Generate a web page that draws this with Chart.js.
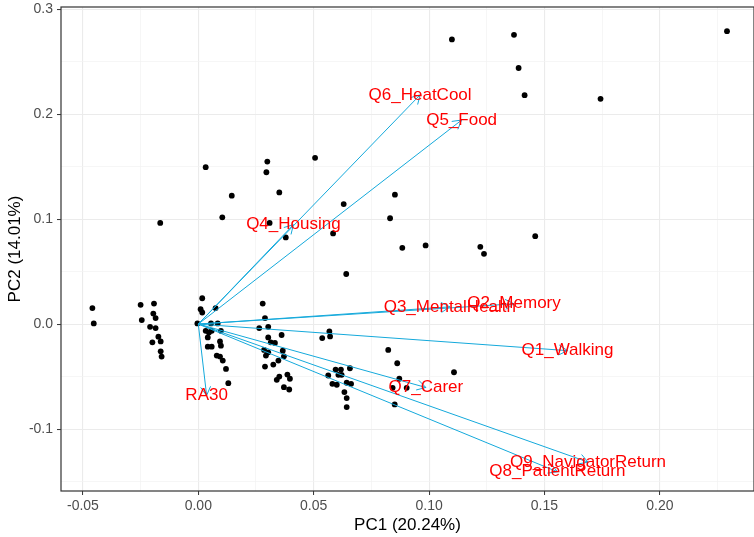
<!DOCTYPE html>
<html>
<head>
<meta charset="utf-8">
<script src="https://cdn.jsdelivr.net/npm/chart.js@4/dist/chart.umd.min.js"></script>
<style>
  body { margin: 0; background: #fff; overflow: hidden; }
  #wrap { width: 754px; height: 537px; }
  canvas { display: block; }
</style>
</head>
<body>
<div id="wrap"><canvas id="biplot" width="754" height="537"></canvas></div>
<script>
// PCA scores (PC1, PC2)
const scoreX = [
  -0.0459, -0.0453,
  -0.0250, -0.0192, -0.0195, -0.0185, -0.0245, -0.0209, -0.0185, -0.0173, -0.0163, -0.0199, -0.0163, -0.0159,
  -0.0165,
  0.0017, 0.0010, 0.0017, 0.0075, -0.0004, 0.0055, 0.0084, 0.0032, 0.0046, 0.0058, 0.0098, 0.0041, 0.0094,
  0.0098, 0.0041, 0.0058, 0.0080, 0.0094, 0.0106, 0.0120, 0.0130,
  0.0279, 0.0289, 0.0264, 0.0303, 0.0361, 0.0303, 0.0314, 0.0332, 0.0285, 0.0303, 0.0293, 0.0366, 0.0371,
  0.0347, 0.0289, 0.0325, 0.0340, 0.0351, 0.0386, 0.0397, 0.0371, 0.0394,
  0.0568, 0.0571, 0.0537, 0.0595, 0.0618, 0.0607, 0.0621, 0.0657, 0.0563, 0.0581, 0.0600, 0.0643, 0.0662,
  0.0633, 0.0643, 0.0643,
  0.0823, 0.0862, 0.0871, 0.1108, 0.0842, 0.0903, 0.0851,
  0.0032, 0.0145, 0.0104, 0.0299, 0.0295, 0.0351, 0.0309, 0.0379, 0.0506, 0.0630, 0.0584, 0.0641,
  0.0852, 0.0831, 0.0884, 0.0985, 0.1099, 0.1368, 0.1388, 0.1414, 0.1743, 0.2291, 0.1222, 0.1238, 0.1460
];
const scoreY = [
  0.0152, 0.0006,
  0.0183, 0.0195, 0.0100, 0.0057, 0.0038, -0.0026, -0.0038, -0.0120, -0.0165, -0.0174, -0.0260, -0.0310,
  0.0963,
  0.0246, 0.0142, 0.0110, 0.0152, 0.0006, 0.0006, 0.0006, -0.0064, -0.0080, -0.0064, -0.0064, -0.0127, -0.0165,
  -0.0206, -0.0215, -0.0215, -0.0300, -0.0310, -0.0348, -0.0427, -0.0563,
  0.0195, 0.0057, -0.0038, -0.0026, -0.0104, -0.0127, -0.0174, -0.0180, -0.0246, -0.0269, -0.0300, -0.0253, -0.0307,
  -0.0348, -0.0405, -0.0386, -0.0531, -0.0500, -0.0481, -0.0521, -0.0601, -0.0623,
  -0.0070, -0.0118, -0.0133, -0.0433, -0.0433, -0.0483, -0.0483, -0.0421, -0.0490, -0.0569, -0.0578, -0.0559, -0.0569,
  -0.0648, -0.0705, -0.0791,
  -0.0246, -0.0373, -0.0521, -0.0459, -0.0607, -0.0607, -0.0765,
  0.1494, 0.1223, 0.1017, 0.1548, 0.1446, 0.1254, 0.0963, 0.0825, 0.1583, 0.1143, 0.0863, 0.0477,
  0.1232, 0.1008, 0.0726, 0.0749, 0.2711, 0.2755, 0.2439, 0.2180, 0.2145, 0.2790, 0.0736, 0.0669, 0.0837
];

// Loadings (arrow tips)
const loadingNames = ["Q1_Walking", "Q2_Memory", "Q3_MentalHealth", "Q4_Housing", "Q5_Food",
                      "Q6_HeatCool", "Q7_Carer", "Q8_PatientReturn", "Q9_NavigatorReturn", "RA30"];
const loadingX = [0.1600, 0.1368, 0.1090, 0.0412, 0.1141, 0.0961, 0.0986, 0.1556, 0.1689, 0.0036];
const loadingY = [-0.0253, 0.0193, 0.0164, 0.0946, 0.1943, 0.2183, -0.0604, -0.1407, -0.1315, -0.0680];

// Axis ticks
const xMajorTicks = [-0.05, 0, 0.05, 0.10, 0.15, 0.20];
const xTickLabels = ["-0.05", "0.00", "0.05", "0.10", "0.15", "0.20"];
const xMinorTicks = [-0.025, 0.025, 0.075, 0.125, 0.175, 0.225];
const yMajorTicks = [-0.1, 0, 0.1, 0.2, 0.3];
const yTickLabels = ["-0.1", "0.0", "0.1", "0.2", "0.3"];
const yMinorTicks = [-0.15, -0.05, 0.05, 0.15, 0.25];

const ARROW_COLOR = "#14A9DB";
const FONT = "'Liberation Sans', Arial, sans-serif";

function majorIndex(list, v) {
  return list.findIndex(t => Math.abs(t - v) < 1e-9);
}

function buildTicks(major, minor) {
  return function (axis) {
    axis.ticks = major.concat(minor).sort((a, b) => a - b).map(v => ({ value: v }));
  };
}

// Arrowheads, red labels and panel border
const biplotExtras = {
  id: "biplotExtras",
  afterDatasetsDraw(chart) {
    const ctx = chart.ctx;
    ctx.save();
    chart.data.datasets.forEach((ds, i) => {
      if (!ds.isLoading) return;
      const pts = chart.getDatasetMeta(i).data;
      const o = pts[0], t = pts[1];
      const ang = Math.atan2(t.y - o.y, t.x - o.x);
      const len = 10;
      ctx.strokeStyle = ARROW_COLOR;
      ctx.lineWidth = 1;
      ctx.beginPath();
      ctx.moveTo(t.x - len * Math.cos(ang - Math.PI / 6), t.y - len * Math.sin(ang - Math.PI / 6));
      ctx.lineTo(t.x, t.y);
      ctx.lineTo(t.x - len * Math.cos(ang + Math.PI / 6), t.y - len * Math.sin(ang + Math.PI / 6));
      ctx.stroke();
    });
    ctx.font = "17px " + FONT;
    ctx.fillStyle = "#FF0000";
    ctx.textAlign = "center";
    ctx.textBaseline = "middle";
    chart.data.datasets.forEach((ds, i) => {
      if (!ds.isLoading) return;
      const t = chart.getDatasetMeta(i).data[1];
      ctx.fillText(ds.label, t.x, t.y);
    });
    const a = chart.chartArea;
    ctx.strokeStyle = "#333333";
    ctx.lineWidth = 1.2;
    ctx.strokeRect(a.left, a.top, a.right - a.left, a.bottom - a.top);
    ctx.restore();
  }
};

const loadingSets = loadingNames.map((name, i) => ({
  label: name,
  isLoading: true,
  data: [{ x: 0, y: 0 }, { x: loadingX[i], y: loadingY[i] }],
  showLine: true,
  borderColor: ARROW_COLOR,
  borderWidth: 1,
  pointRadius: 0,
  pointHoverRadius: 0
}));

const scoreSet = {
  label: "scores",
  data: scoreX.map((x, i) => ({ x: x, y: scoreY[i] })),
  backgroundColor: "#000000",
  borderColor: "#000000",
  borderWidth: 0,
  pointRadius: 2.9,
  pointHoverRadius: 2.9
};

new Chart(document.getElementById("biplot").getContext("2d"), {
  type: "scatter",
  data: { datasets: loadingSets.concat([scoreSet]) },
  options: {
    responsive: false,
    animation: false,
    layout: { autoPadding: false, padding: { top: 7, right: 0, left: 0, bottom: 0 } },
    plugins: {
      legend: { display: false },
      tooltip: { enabled: false }
    },
    scales: {
      x: {
        type: "linear",
        min: -0.0595,
        max: 0.2408,
        afterBuildTicks: buildTicks(xMajorTicks, xMinorTicks),
        afterFit: function (scale) {
          scale.height = 46;
          scale.paddingLeft = 0;
          scale.paddingRight = 0;
        },
        border: { display: false },
        grid: {
          color: c => majorIndex(xMajorTicks, c.tick.value) >= 0 ? "#EBEBEB" : "#F2F2F2",
          lineWidth: c => majorIndex(xMajorTicks, c.tick.value) >= 0 ? 1.1 : 0.7,
          tickColor: c => majorIndex(xMajorTicks, c.tick.value) >= 0 ? "#333333" : "rgba(0,0,0,0)",
          tickLength: 4,
          tickWidth: 1
        },
        ticks: {
          autoSkip: false,
          maxRotation: 0,
          padding: 3,
          color: "#4D4D4D",
          font: { family: FONT, size: 14 },
          callback: function (value) {
            const k = majorIndex(xMajorTicks, value);
            return k >= 0 ? xTickLabels[k] : "";
          }
        },
        title: {
          display: true,
          text: "PC1 (20.24%)",
          color: "#000000",
          font: { family: FONT, size: 17 },
          padding: { top: 0, bottom: 1 }
        }
      },
      y: {
        type: "linear",
        min: -0.159,
        max: 0.302,
        afterBuildTicks: buildTicks(yMajorTicks, yMinorTicks),
        afterFit: function (scale) {
          scale.width = 61;
          scale.paddingTop = 0;
          scale.paddingBottom = 0;
        },
        border: { display: false },
        grid: {
          color: c => majorIndex(yMajorTicks, c.tick.value) >= 0 ? "#EBEBEB" : "#F2F2F2",
          lineWidth: c => majorIndex(yMajorTicks, c.tick.value) >= 0 ? 1.1 : 0.7,
          tickColor: c => majorIndex(yMajorTicks, c.tick.value) >= 0 ? "#333333" : "rgba(0,0,0,0)",
          tickLength: 4,
          tickWidth: 1
        },
        ticks: {
          autoSkip: false,
          padding: 4,
          color: "#4D4D4D",
          font: { family: FONT, size: 14 },
          callback: function (value) {
            const k = majorIndex(yMajorTicks, value);
            return k >= 0 ? yTickLabels[k] : "";
          }
        },
        title: {
          display: true,
          text: "PC2 (14.01%)",
          color: "#000000",
          font: { family: FONT, size: 17 },
          padding: { top: 5, bottom: 0 }
        }
      }
    }
  },
  plugins: [biplotExtras]
});
</script>
</body>
</html>
